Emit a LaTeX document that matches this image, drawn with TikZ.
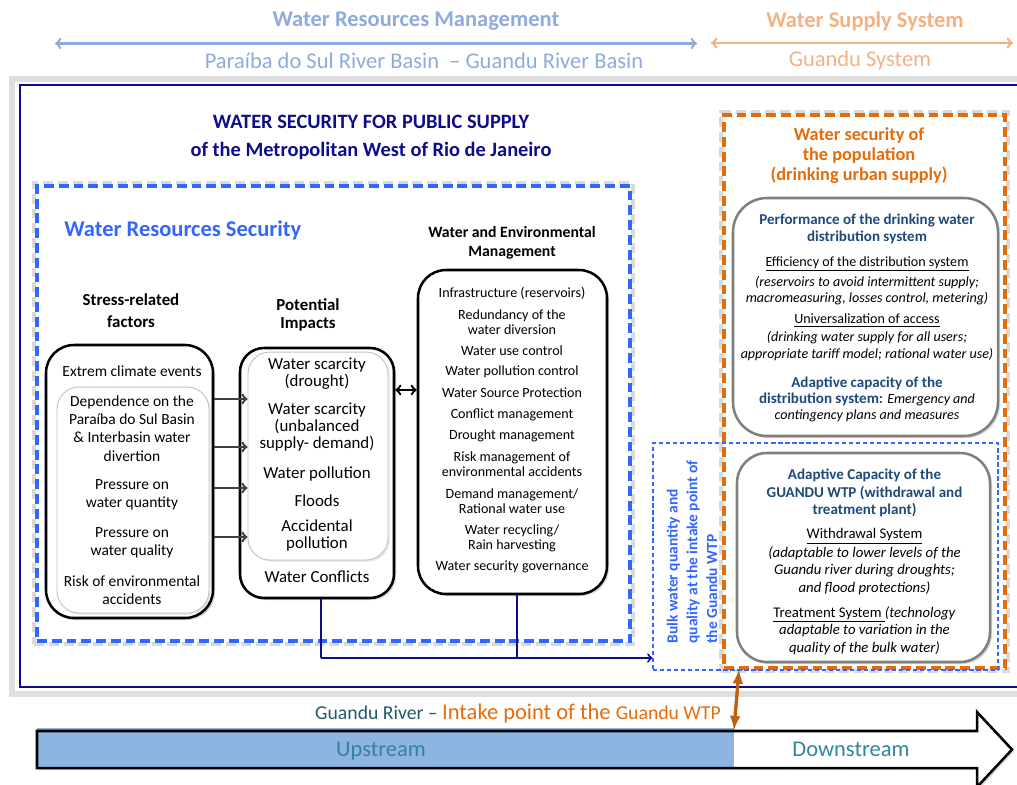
\documentclass[tikz,border=0pt]{standalone}
\usepackage{fontspec}
\setmainfont{Carlito}
\usetikzlibrary{arrows,fit,shadows}

\definecolor{azulclaro}{RGB}{143,170,220}
\definecolor{laranjaclaro}{RGB}{244,177,131}
\definecolor{marinho}{RGB}{12,12,140}
\definecolor{azul}{RGB}{51,102,255}
\definecolor{laranja}{RGB}{228,108,10}
\definecolor{azulescuro}{RGB}{31,73,125}
\definecolor{cinza}{RGB}{127,127,127}
\definecolor{azulmontante}{RGB}{142,180,227}
\definecolor{verdeazul}{RGB}{49,133,156}
\definecolor{petroleo}{RGB}{33,89,103}
\definecolor{marrom}{RGB}{191,96,18}

\newcommand{\fs}[2]{\fontsize{#1}{#2}\selectfont}

\begin{document}
\begin{tikzpicture}[x=0.025cm, y=-0.025cm,
    txt/.style={inner sep=0pt, align=center},
    caixa/.style={draw, line width=1.8pt, rounded corners=0.7cm, inner sep=0pt, fill=white,
        drop shadow={shadow xshift=1.5pt, shadow yshift=-1.5pt, opacity=0.3}},
    interna/.style={draw=gray!45, line width=0.7pt, rounded corners=0.55cm, inner sep=0pt, fill=white,
        drop shadow={shadow xshift=1.2pt, shadow yshift=-1.2pt, opacity=0.2}},
    cinzenta/.style={draw=cinza, line width=1.8pt, rounded corners=0.85cm, inner sep=0pt, fill=white,
        drop shadow={shadow xshift=1.5pt, shadow yshift=-1.5pt, opacity=0.3}},
    tracejada/.style={line width=2.2pt, dash pattern=on 7pt off 3.5pt, inner sep=0pt},
    sombra/.style={draw=gray!30, line width=3pt, dash pattern=on 7pt off 3.5pt, inner sep=2pt},
    seta/.style={->, line width=1.7pt, draw=black!75},
    ligacao/.style={line width=1.4pt, draw=marinho}]
    \useasboundingbox (0,0) rectangle (1017,784);

    % Setas do topo
    \node[txt, font=\fs{16}{19}\bfseries, text=azulclaro] (gestaorec) at (416,21.5) {Water Resources Management};
    \node[txt, font=\fs{16}{19}, text=azulclaro] (bacias) at (424,61) {Paraíba do Sul River Basin\ \ -- Guandu River Basin};
    \node[txt, font=\fs{16}{19}\bfseries, text=laranjaclaro] (abastecimento) at (865,21.5) {Water Supply System};
    \node[txt, font=\fs{16}{19}, text=laranjaclaro] (sistema) at (860,60) {Guandu System};
    \coordinate (ga) at (55,43.5);
    \coordinate (gb) at (697,43.5);
    \coordinate (sa) at (711,43);
    \coordinate (sb) at (1013,43);
    \draw[<->, azulclaro, line width=1.8pt] (ga) -- (gb);
    \draw[<->, laranjaclaro, line width=1.8pt] (sa) -- (sb);

    % Moldura
    \draw[gray!25, line width=4pt] (1017,79) -- (12,79) -- (12,694) -- (1017,694);
    \draw[marinho, line width=1.5pt] (1017,85) -- (20,85) -- (20,687) -- (1017,687);
    \node[txt, font=\fs{14.5}{20}\bfseries, text=marinho] (titulo) at (371,137)
        {WATER SECURITY FOR PUBLIC SUPPLY\\of the Metropolitan West of Rio de Janeiro};

    % Seguranca dos recursos hidricos
    \node[sombra, fit={(37,186) (630,641)}] (sombrarec) {};
    \node[tracejada, draw=azul, fit={(37,186) (630,641)}] (recursos) {};
    \node[txt, anchor=west, font=\fs{16}{19}\bfseries, text=azul] (seguranca) at (64,230) {Water Resources Security};

    \node[txt, font=\fs{12}{15.6}\bfseries] (cabfatores) at (131,311) {Stress-related\\factors};
    \node[txt, font=\fs{12}{12.8}\bfseries] (cabimpactos) at (308,315) {Potential\\Impacts};
    \node[txt, font=\fs{11.2}{13.5}\bfseries] (cabgestao) at (512,242.5) {Water and Environmental\\Management};

    % Caixas
    \node[caixa, fit={(46,345) (213,618)}] (fatores) {};
    \node[interna, fit={(57,387) (209,613)}] (fatoresin) {};
    \node[caixa, rounded corners=0.6cm, fit={(240,348) (394,598)}] (impactos) {};
    \node[interna, fit={(248,352) (388,560)}] (impactosin) {};
    \node[caixa, fit={(418,270) (607,594)}] (gestao) {};

    \foreach \y/\rotulo [count=\i] in {371/Extrem climate events,
        428.5/Dependence on the\\Paraíba do Sul Basin\\\& Interbasin water\\divertion,
        495/Pressure on\\water quantity, 543/Pressure on\\water quality,
        590/Risk of environmental\\accidents}
        \node[txt, font=\fs{11}{13}] (fator\i) at (132,\y) {\rotulo};

    \foreach \y/\rotulo [count=\i] in {374/Water scarcity\\(drought),
        427/Water scarcity\\(unbalanced\\supply- demand), 474/Water pollution,
        501/Floods, 535.5/Accidental\\pollution, 577/Water Conflicts}
        \node[txt, font=\fs{12}{12}] (impacto\i) at (317,\y) {\rotulo};

    \foreach \y/\rotulo [count=\i] in {293/Infrastructure (reservoirs),
        322.5/Redundancy of the\\water diversion, 351/Water use control,
        372/Water pollution control, 393/Water Source Protection,
        415/Conflict management, 436/Drought management,
        464.5/Risk management of\\environmental accidents,
        501.5/Demand management\slash\\Rational water use,
        538/Water recycling\slash\\Rain harvesting, 567/Water security governance}
        \node[txt, font=\fs{10}{10.7}] (medida\i) at (512,\y) {\rotulo};

    % Setas entre as caixas
    \foreach \y in {399,447,488,537}
        \draw[seta] (fatores.east |- 0,\y) -- (impactosin.west |- 0,\y);
    \draw[<->, line width=1.7pt] (impactos.east |- 0,390) -- (gestao.west |- 0,390);

    % Seguranca da populacao
    \node[sombra, fit={(724,115) (1005,668)}] (sombrapop) {};
    \node[tracejada, draw=laranja, fit={(724,115) (1005,668)}] (populacao) {};
    \node[txt, font=\fs{13}{14.2}\bfseries, text=laranja] (cabpopulacao) at (859,156)
        {Water security of\\the population\\(drinking urban supply)};

    \node[cinzenta, fit={(733,198) (998,436)}] (distribuicao) {};
    \node[txt, font=\fs{10.7}{12}\bfseries, text=azulescuro] (desempenho) at (867,229)
        {Performance of the drinking water\\distribution system};
    \node[txt, font=\fs{10}{11.4}] (eficiencia) at (867,264) {\underline{Efficiency of the distribution system}};
    \node[txt, font=\fs{10}{11.4}\itshape] (eficienciaobs) at (867,291)
        {(reservoirs to avoid intermittent supply;\\macromeasuring, losses control, metering)};
    \node[txt, font=\fs{10}{11.4}] (universal) at (867,320.5) {\underline{Universalization of access}};
    \node[txt, font=\fs{10}{11.4}\itshape] (universalobs) at (867,346)
        {(drinking water supply for all users;\\appropriate tariff model; rational water use)};
    \node[txt, font=\fs{10}{11.4}] (adaptacao) at (867,399.5)
        {\textcolor{azulescuro}{\bfseries\fs{10.7}{11.4}Adaptive capacity of the}\\
         \textcolor{azulescuro}{\bfseries\fs{10.7}{11.4}distribution system:} \textit{Emergency and}\\
         \textit{contingency plans and measures}};

    % Agua bruta na captacao
    \node[draw=azul, line width=0.8pt, dash pattern=on 3pt off 2pt, inner sep=0pt,
        fit={(653,443) (998,670)}] (granel) {};
    \node[txt, rotate=90, align=left, font=\fs{11}{14}\bfseries, text=azul] (graneltxt) at (692,552)
        {Bulk water quantity and\\quality at the intake point of\\the Guandu WTP};

    \node[cinzenta, rounded corners=0.75cm, fit={(737,453) (990,662)}] (eta) {};
    \node[txt, font=\fs{10.7}{12.2}\bfseries, text=azulescuro] (cabeta) at (864.5,493)
        {Adaptive Capacity of the\\GUANDU WTP (withdrawal and\\treatment plant)};
    \node[txt, font=\fs{10.5}{12.4}] (retirada) at (864.5,536) {\underline{Withdrawal System}};
    \node[txt, font=\fs{10.5}{12.4}\itshape] (retiradaobs) at (864.5,570.5)
        {(adaptable to lower levels of the\\Guandu river during droughts;\\and flood protections)};
    \node[txt, font=\fs{10.5}{12.4}] (tratamento) at (864.5,630.5)
        {\underline{Treatment System }\textit{(technology}\\\textit{adaptable to variation in the}\\
         \textit{quality of the bulk water)}};

    % Ligacoes ate a captacao
    \coordinate (juncao) at (321,658);
    \coordinate (juncaob) at (517,658);
    \draw[ligacao] (impactos.south -| juncao) -- (juncao);
    \draw[ligacao] (gestao.south -| juncaob) -- (juncaob);
    \draw[ligacao, ->] (juncao) -- (juncao -| granel.west);

    % Rio Guandu
    \node[txt, font=\fs{14}{16}] (rio) at (518,713)
        {\textcolor{petroleo}{Guandu River --} \textcolor{laranja}{\fs{16}{18}Intake point of the \fs{14}{16}Guandu WTP}};
    \path[fill=white, drop shadow={shadow xshift=1.5pt, shadow yshift=-1.5pt, opacity=0.3}]
        (37,731) -- (977,731) -- (977,712) -- (1012,749.5) -- (977,787) -- (977,768) -- (37,768) -- cycle;
    \fill[azulmontante] (37,728) rectangle (734,768);
    \draw[line width=1.8pt]
        (37,731) -- (977,731) -- (977,712) -- (1012,749.5) -- (977,787) -- (977,768) -- (37,768) -- cycle;
    \node[txt, font=\fs{16}{18}, text=verdeazul] (montante) at (381,751) {Upstream};
    \node[txt, font=\fs{16}{18}, text=verdeazul] (jusante) at (851,749) {Downstream};

    \coordinate (tomada) at (734,730);
    \draw[latex-latex, marrom, line width=2.4pt] (populacao.south -| 739,0) -- (tomada);
\end{tikzpicture}
\end{document}
